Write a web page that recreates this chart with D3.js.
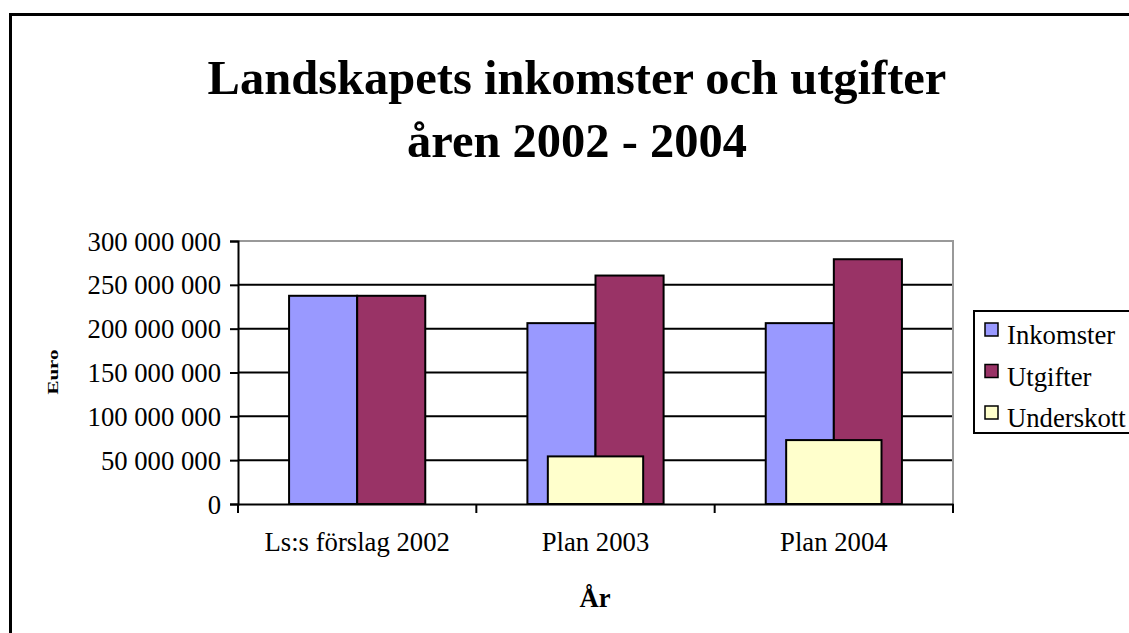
<!DOCTYPE html>
<html>
<head>
<meta charset="utf-8">
<script src="https://cdn.jsdelivr.net/npm/d3@7"></script>
<style>
  body { margin: 0; background: #fff; }
  svg text { font-family: "Liberation Serif", "Times New Roman", serif; fill: #000; }
</style>
</head>
<body>
<svg id="chart" width="1129" height="633"></svg>
<script>
// chart data
var categories = ['Ls:s förslag 2002', 'Plan 2003', 'Plan 2004']
var inkomster = [237.5e6, 206.3e6, 206.3e6]
var utgifter = [237.5e6, 260.6e6, 279.2e6]
var underskott = [0, 54.3e6, 72.9e6]
var seriesNames = ['Inkomster', 'Utgifter', 'Underskott']
var seriesColors = ['#9999ff', '#993366', '#ffffcc']
var yTicks = [0, 50e6, 100e6, 150e6, 200e6, 250e6, 300e6]

var svg = d3.select('#chart')

// outer chart frame, runs off the right and bottom edge
svg.append('rect')
  .attr('x', 10.5).attr('y', 14.5)
  .attr('width', 1200).attr('height', 700)
  .attr('fill', '#fff')
  .attr('stroke', '#000').attr('stroke-width', 3)

// plot area (don't call it "top", that's window.top)
var plotLeft = 238, plotRight = 953, plotTop = 241, plotBottom = 504

var y = d3.scaleLinear().domain([0, 300e6]).range([plotBottom, plotTop])
var x0 = d3.scaleBand().domain(categories).range([plotLeft, plotRight])
// two front series share a slot, gap width 150%
var x1 = d3.scaleBand().domain(['Inkomster', 'Utgifter'])
  .range([0, x0.bandwidth()]).paddingInner(0).paddingOuter(0.75)
// underskott sits on its own axis group, centered
var x2 = d3.scaleBand().domain(['Underskott'])
  .range([0, x0.bandwidth()]).paddingOuter(0.75)

// gridlines
svg.append('g').selectAll('line')
  .data(yTicks.filter(function (d) { return d > 0 && d < 300e6 }))
  .enter().append('line')
  .attr('x1', plotLeft).attr('x2', plotRight)
  .attr('y1', function (d) { return y(d) }).attr('y2', function (d) { return y(d) })
  .attr('stroke', '#000').attr('stroke-width', 2)

// plot border (top + right, grey)
svg.append('path')
  .attr('d', 'M' + plotLeft + ',' + y(300e6) + 'H' + plotRight + 'V' + plotBottom)
  .attr('fill', 'none').attr('stroke', '#999').attr('stroke-width', 2)

var rows = categories.map(function (c, i) {
  return { cat: c, Inkomster: inkomster[i], Utgifter: utgifter[i], Underskott: underskott[i] }
})

var groups = svg.append('g').selectAll('g')
  .data(rows).enter().append('g')
  .attr('transform', function (d) { return 'translate(' + x0(d.cat) + ',0)' })

groups.selectAll('rect.front')
  .data(function (d) { return ['Inkomster', 'Utgifter'].map(function (k) { return { key: k, value: d[k] } }) })
  .enter().append('rect')
  .attr('class', 'front')
  .attr('x', function (d) { return x1(d.key) })
  .attr('width', x1.bandwidth())
  .attr('y', function (d) { return y(d.value) })
  .attr('height', function (d) { return y(0) - y(d.value) })
  .attr('fill', function (d) { return seriesColors[seriesNames.indexOf(d.key)] })
  .attr('stroke', '#000').attr('stroke-width', 2)

groups.selectAll('rect.under')
  .data(function (d) { return d.Underskott > 0 ? [{ key: 'Underskott', value: d.Underskott }] : [] })
  .enter().append('rect')
  .attr('class', 'under')
  .attr('x', function (d) { return x2(d.key) })
  .attr('width', x2.bandwidth())
  .attr('y', function (d) { return y(d.value) })
  .attr('height', function (d) { return y(0) - y(d.value) })
  .attr('fill', seriesColors[2])
  .attr('stroke', '#000').attr('stroke-width', 2)

// y axis
var yAxis = svg.append('g')
  .attr('transform', 'translate(' + plotLeft + ',0)')
  .call(d3.axisLeft(y).tickValues(yTicks).tickSizeOuter(0).tickSize(8).tickPadding(9)
    .tickFormat(function (d) { return d3.format(',')(d).replace(/,/g, ' ') }))
yAxis.select('.domain').attr('stroke', '#000').attr('stroke-width', 2)
yAxis.selectAll('.tick line').attr('stroke', '#000').attr('stroke-width', 2)
yAxis.selectAll('text').style('font-size', '26.7px').attr('dy', '0.34em')

// x axis
var xAxis = svg.append('g')
  .attr('transform', 'translate(0,' + plotBottom + ')')
  .call(d3.axisBottom(x0).tickSize(0).tickSizeOuter(0).tickPadding(40))
xAxis.select('.domain').attr('stroke', '#000').attr('stroke-width', 2)
xAxis.selectAll('text').style('font-size', '26.7px').attr('dy', '0.25em')
// category divider ticks
var dividers = categories.map(function (c) { return x0(c) }).concat([plotRight])
xAxis.selectAll('line.div')
  .data(dividers)
  .enter().append('line')
  .attr('class', 'div')
  .attr('x1', function (d) { return d }).attr('x2', function (d) { return d })
  .attr('y1', 0).attr('y2', 9)
  .attr('stroke', '#000').attr('stroke-width', 2)

// titles
var title = svg.append('text')
  .attr('text-anchor', 'middle')
  .style('font-size', '48.5px').style('font-weight', 'bold')
title.append('tspan').attr('x', 577).attr('y', 94).text('Landskapets inkomster och utgifter')
title.append('tspan').attr('x', 577).attr('y', 157).text('åren 2002 - 2004')

svg.append('text')
  .attr('x', 595).attr('y', 607)
  .attr('text-anchor', 'middle')
  .style('font-size', '26.7px').style('font-weight', 'bold')
  .text('År')

svg.append('text')
  .attr('transform', 'translate(58,372) rotate(-90) scale(1.4,1)')
  .attr('text-anchor', 'middle')
  .style('font-size', '15px').style('font-weight', 'bold')
  .text('Euro')

// legend
var legend = svg.append('g').attr('transform', 'translate(974,311)')
legend.append('rect')
  .attr('width', 200).attr('height', 122)
  .attr('fill', '#fff').attr('stroke', '#000').attr('stroke-width', 2)
var items = legend.selectAll('g.item')
  .data(seriesNames).enter().append('g')
  .attr('transform', function (d, i) { return 'translate(11,' + (12 + i * 41.5) + ')' })
items.append('rect')
  .attr('width', 13).attr('height', 13)
  .attr('fill', function (d, i) { return seriesColors[i] })
  .attr('stroke', '#000').attr('stroke-width', 1.5)
items.append('text')
  .attr('x', 22).attr('y', 21)
  .style('font-size', '26.7px')
  .text(function (d) { return d })
</script>
</body>
</html>
